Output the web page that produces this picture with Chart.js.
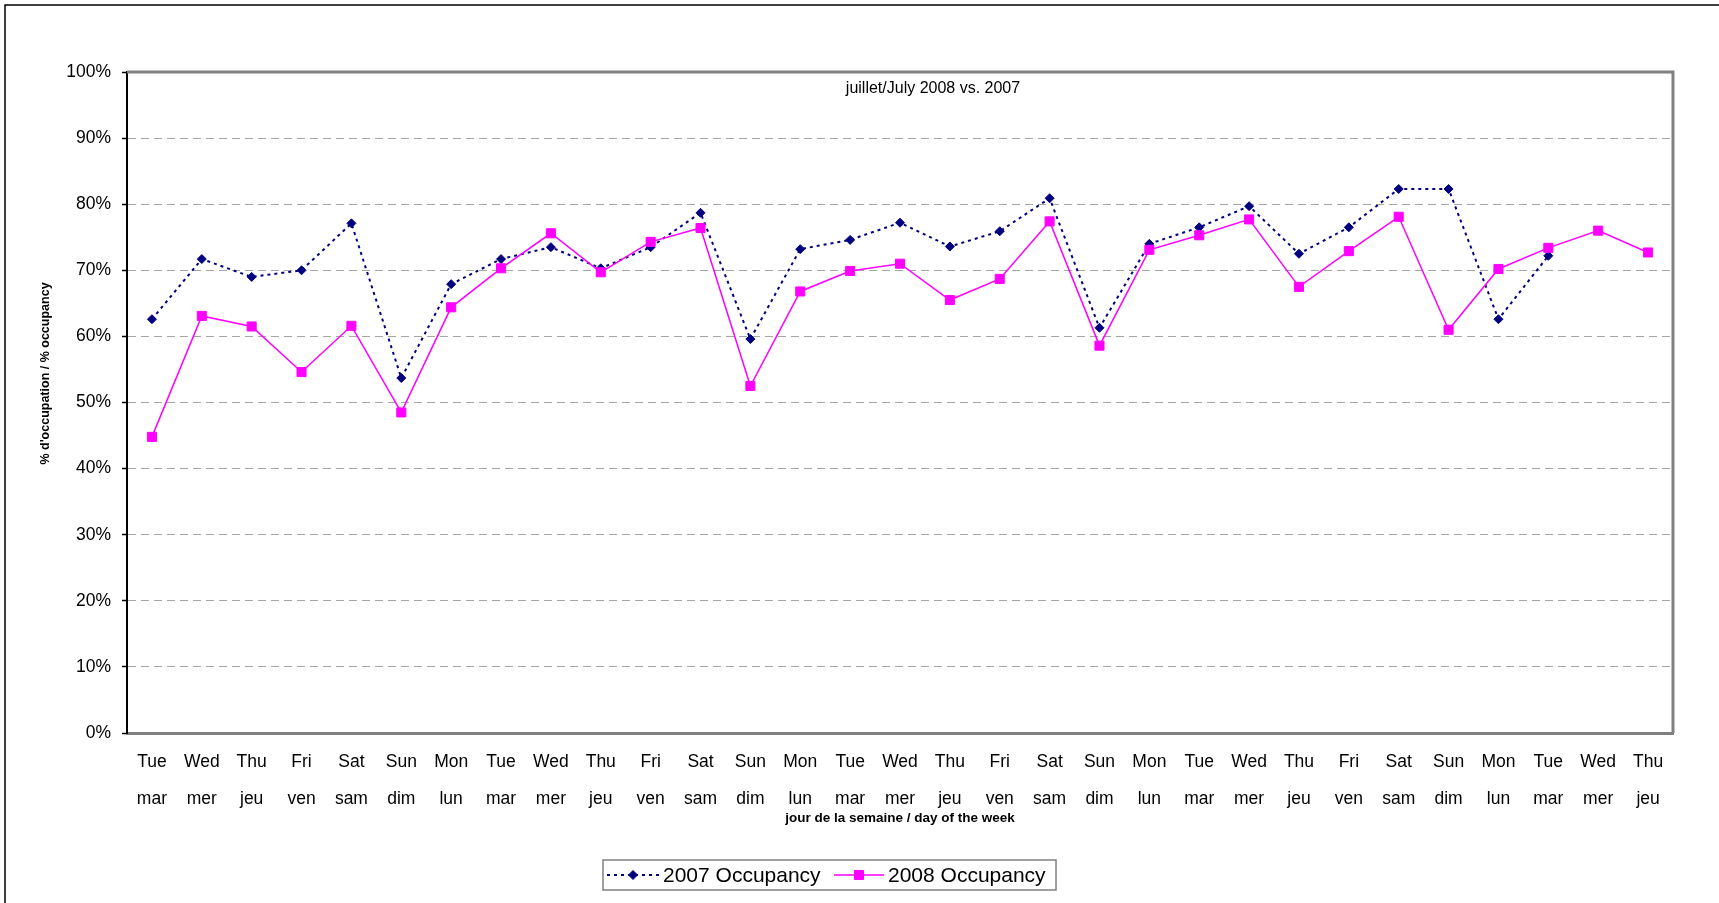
<!DOCTYPE html>
<html>
<head>
<meta charset="utf-8">
<title>juillet/July 2008 vs. 2007</title>
<script src="https://cdn.jsdelivr.net/npm/chart.js@4/dist/chart.umd.min.js"></script>
<style>
  html, body { margin: 0; padding: 0; background: #fff; }
  #graf { display: block; }
</style>
</head>
<body>
<canvas id="graf" width="1719" height="903"></canvas>
<script>
// jours de la semaine (anglais / francais)
const joursEN = ['Tue', 'Wed', 'Thu', 'Fri', 'Sat', 'Sun', 'Mon',
                 'Tue', 'Wed', 'Thu', 'Fri', 'Sat', 'Sun', 'Mon',
                 'Tue', 'Wed', 'Thu', 'Fri', 'Sat', 'Sun', 'Mon',
                 'Tue', 'Wed', 'Thu', 'Fri', 'Sat', 'Sun', 'Mon',
                 'Tue', 'Wed', 'Thu'];
const joursFR = ['mar', 'mer', 'jeu', 'ven', 'sam', 'dim', 'lun',
                 'mar', 'mer', 'jeu', 'ven', 'sam', 'dim', 'lun',
                 'mar', 'mer', 'jeu', 'ven', 'sam', 'dim', 'lun',
                 'mar', 'mer', 'jeu', 'ven', 'sam', 'dim', 'lun',
                 'mar', 'mer', 'jeu'];

// taux d'occupation en %
const occ2007 = [62.6, 71.7, 69.0, 70.0, 77.1, 53.7, 67.9,
                 71.7, 73.5, 70.3, 73.5, 78.7, 59.6, 73.2,
                 74.6, 77.2, 73.6, 75.9, 80.9, 61.3, 74.0,
                 76.5, 79.7, 72.5, 76.5, 82.3, 82.3, 62.6,
                 72.2, null, null];
const occ2008 = [44.8, 63.1, 61.5, 54.6, 61.6, 48.5, 64.4,
                 70.3, 75.6, 69.7, 74.3, 76.4, 52.5, 66.8,
                 69.9, 71.0, 65.5, 68.7, 77.4, 58.6, 73.1,
                 75.3, 77.7, 67.5, 72.9, 78.1, 61.0, 70.2,
                 73.4, 76.0, 72.7];

const titreGraf = 'juillet/July 2008 vs. 2007';
const titreX = 'jour de la semaine / day of the week';
const titreY = "% d'occupation / % occupancy";
const police = "'Liberation Sans', Arial, sans-serif";

const etiquettes = joursEN.map((j, i) => [j, joursFR[i]]);

// cadre exterieur, bord du graphique, titres
const cadre = {
    id: 'cadre',
    beforeDraw(chart) {
        const ctx = chart.ctx;
        ctx.save();
        ctx.strokeStyle = '#000';
        ctx.lineWidth = 1.5;
        ctx.beginPath();
        ctx.moveTo(5, chart.height);
        ctx.lineTo(5, 5);
        ctx.lineTo(chart.width, 5);
        ctx.stroke();
        ctx.restore();
    },
    beforeDatasetsDraw(chart) {
        const a = chart.chartArea;
        const ctx = chart.ctx;
        ctx.save();
        ctx.strokeStyle = '#808080';
        ctx.lineWidth = 3;
        ctx.beginPath();
        ctx.moveTo(a.left, a.top);
        ctx.lineTo(a.right, a.top);
        ctx.lineTo(a.right, a.bottom);
        ctx.stroke();
        ctx.fillStyle = '#000';
        ctx.font = '16px ' + police;
        ctx.textAlign = 'center';
        ctx.textBaseline = 'middle';
        ctx.fillText(titreGraf, (a.left + a.right) / 2 + 33, a.top + 17);

        // titre de l'axe Y
        ctx.font = 'bold 12.5px ' + police;
        ctx.translate(46, (a.top + a.bottom) / 2 - 29);
        ctx.rotate(-Math.PI / 2);
        ctx.fillText(titreY, 0, 0);
        ctx.restore();
    }
};

// legende encadree avec echantillon ligne + marqueur
const legende = {
    id: 'legende',
    afterDraw(chart) {
        const ctx = chart.ctx;
        const ds = chart.data.datasets;
        const y = 875;
        ctx.save();
        ctx.fillStyle = '#fff';
        ctx.fillRect(603, 860, 453, 30);
        ctx.strokeStyle = '#808080';
        ctx.lineWidth = 1.5;
        ctx.strokeRect(603, 860, 453, 30);

        const items = [{ x0: 607, x1: 659, txt: 663 }, { x0: 834, x1: 884, txt: 888 }];
        items.forEach((it, i) => {
            const d = ds[i];
            ctx.strokeStyle = d.borderColor;
            ctx.lineWidth = d.borderWidth;
            ctx.setLineDash(d.borderDash || []);
            ctx.beginPath();
            ctx.moveTo(it.x0, y);
            ctx.lineTo(it.x1, y);
            ctx.stroke();
            ctx.setLineDash([]);
            ctx.fillStyle = d.pointBackgroundColor;
            ctx.strokeStyle = d.pointBorderColor;
            ctx.lineWidth = d.pointBorderWidth;
            Chart.helpers.drawPoint(ctx, {
                pointStyle: d.pointStyle,
                radius: d.pointRadius,
                borderWidth: d.pointBorderWidth,
                rotation: 0
            }, (it.x0 + it.x1) / 2, y);
            ctx.fillStyle = '#000';
            ctx.font = '21px ' + police;
            ctx.textAlign = 'left';
            ctx.textBaseline = 'middle';
            ctx.fillText(d.label, it.txt, y + 1);
        });
        ctx.restore();
    }
};

new Chart(document.getElementById('graf'), {
    type: 'line',
    data: {
        labels: etiquettes,
        datasets: [
            {
                label: '2007 Occupancy',
                data: occ2007,
                borderColor: '#000080',
                backgroundColor: '#000080',
                borderWidth: 2,
                borderDash: [3, 4],
                pointStyle: 'rectRot',
                pointRadius: 4.5,
                pointBorderWidth: 1,
                pointBackgroundColor: '#000080',
                pointBorderColor: '#000080',
                tension: 0,
                fill: false,
                order: 1
            },
            {
                label: '2008 Occupancy',
                data: occ2008,
                borderColor: '#FF00FF',
                backgroundColor: '#FF00FF',
                borderWidth: 1.5,
                pointStyle: 'rect',
                pointRadius: 6.4,
                pointBorderWidth: 1,
                pointBackgroundColor: '#FF00FF',
                pointBorderColor: '#FF00FF',
                tension: 0,
                fill: false,
                order: 0
            }
        ]
    },
    options: {
        responsive: false,
        animation: false,
        layout: { padding: { left: 0, top: 72, right: 46, bottom: 70 } },
        plugins: {
            legend: { display: false },
            title: { display: false },
            tooltip: { enabled: false }
        },
        scales: {
            x: {
                type: 'category',
                offset: true,
                grid: { display: false, drawTicks: false },
                border: { display: true, color: '#808080', width: 3 },
                ticks: {
                    color: '#000',
                    padding: 11,
                    maxRotation: 0,
                    autoSkip: false,
                    font: { family: police, size: 17.5, lineHeight: 2.114 }
                },
                title: {
                    display: true,
                    text: titreX,
                    color: '#000',
                    padding: { top: 0, bottom: 7 },
                    font: { family: police, size: 13.5, weight: 'bold', lineHeight: 1.2 }
                },
                afterFit(scale) { scale.height = 100; }
            },
            y: {
                min: 0,
                max: 100,
                grid: {
                    color: '#a6a6a6',
                    lineWidth: 1,
                    drawTicks: true,
                    tickLength: 5,
                    tickColor: '#000',
                    tickWidth: 1.5
                },
                border: { display: true, color: '#000', width: 2, dash: [8, 5] },
                ticks: {
                    stepSize: 10,
                    color: '#000',
                    padding: 11,
                    font: { family: police, size: 17.5 },
                    callback: v => v + '%'
                },
                title: { display: false },
                afterFit(scale) { scale.width = 127; }
            }
        }
    },
    plugins: [cadre, legende]
});
</script>
</body>
</html>
